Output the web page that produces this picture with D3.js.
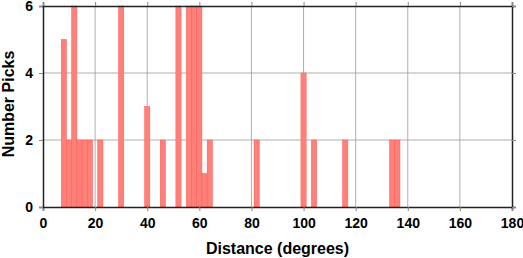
<!DOCTYPE html>
<html>
<head>
<meta charset="utf-8">
<script src="https://cdn.jsdelivr.net/npm/d3@7"></script>
<style>
  body { margin: 0; background: #fff; }
  text { font-family: "Liberation Sans", Arial, sans-serif; font-weight: bold; }
</style>
</head>
<body>
<div id="chart"></div>
<script>
// histogram bins (2 degree wide, centred on even degrees)
const binCenters = [8, 10, 12, 14, 16, 18, 22, 30, 40, 46, 52, 56, 58, 60, 62, 64, 82, 100, 104, 116, 134, 136];
const counts     = [5, 2, 6, 2, 2, 2, 2, 6, 3, 2, 6, 6, 6, 6, 1, 2, 2, 4, 2, 2, 2, 2];
const binWidth = 2;
const xTicks = [0, 20, 40, 60, 80, 100, 120, 140, 160, 180];
const yTicks = [0, 2, 4, 6];

const width = 523, height = 258;
const margin = { top: 6, right: 11, bottom: 51, left: 43 };
const innerWidth = width - margin.left - margin.right;
const innerHeight = height - margin.top - margin.bottom;

const svg = d3.select("#chart").append("svg")
    .attr("width", width)
    .attr("height", height);

const g = svg.append("g")
    .attr("transform", `translate(${margin.left},${margin.top})`);

const x = d3.scaleLinear().domain([0, 180]).range([0, innerWidth]);
const y = d3.scaleLinear().domain([0, 6]).range([innerHeight, 0]);

// grid
g.selectAll("line.gx")
    .data(xTicks.slice(1, -1))
    .enter().append("line")
    .attr("x1", d => x(d)).attr("x2", d => x(d))
    .attr("y1", 0).attr("y2", innerHeight)
    .attr("stroke", "#9a9a9a").attr("stroke-width", 0.8);

g.selectAll("line.gy")
    .data(yTicks.slice(1, -1))
    .enter().append("line")
    .attr("x1", 0).attr("x2", innerWidth)
    .attr("y1", d => y(d)).attr("y2", d => y(d))
    .attr("stroke", "#9a9a9a").attr("stroke-width", 0.8);

// bars
const data = binCenters.map((c, i) => ({ center: c, count: counts[i] }));

g.selectAll("rect.bar")
    .data(data)
    .enter().append("rect")
    .attr("class", "bar")
    .attr("x", d => x(d.center - binWidth / 2))
    .attr("width", d => x(binWidth) - x(0))
    .attr("y", d => y(d.count))
    .attr("height", d => innerHeight - y(d.count))
    .attr("fill", "#ff8078")
    .attr("stroke", "#ff5a55")
    .attr("stroke-width", 0.5);

// axes
const xAxis = d3.axisBottom(x).tickValues(xTicks).tickSize(4).tickPadding(7)
    .tickFormat(d3.format("d"));
const yAxis = d3.axisLeft(y).tickValues(yTicks).tickSize(4).tickPadding(6)
    .tickFormat(d3.format("d"));

g.append("g")
    .attr("transform", `translate(0,${innerHeight})`)
    .call(xAxis);
g.append("g").call(yAxis);

// top / right frame ticks
g.append("g").call(d3.axisTop(x).tickValues(xTicks).tickSize(4).tickFormat(""));
g.append("g").attr("transform", `translate(${innerWidth},0)`)
    .call(d3.axisRight(y).tickValues(yTicks).tickSize(4).tickFormat(""));

g.selectAll(".domain").attr("stroke", "#222").attr("stroke-width", 1.5);
g.selectAll(".tick line").attr("stroke", "#888").attr("stroke-width", 1);
g.selectAll(".tick text")
    .attr("fill", "#000")
    .attr("font-size", "14px")
    .style("font-family", "'Liberation Sans', Arial, sans-serif")
    .style("font-weight", "bold");

// axis titles
svg.append("text")
    .attr("x", margin.left + innerWidth / 2)
    .attr("y", 253.5)
    .attr("text-anchor", "middle")
    .attr("font-size", "16px")
    .text("Distance (degrees)");

svg.append("text")
    .attr("transform", `translate(13.5,104) rotate(-90)`)
    .attr("text-anchor", "middle")
    .attr("font-size", "16px")
    .text("Number Picks");
</script>
</body>
</html>
